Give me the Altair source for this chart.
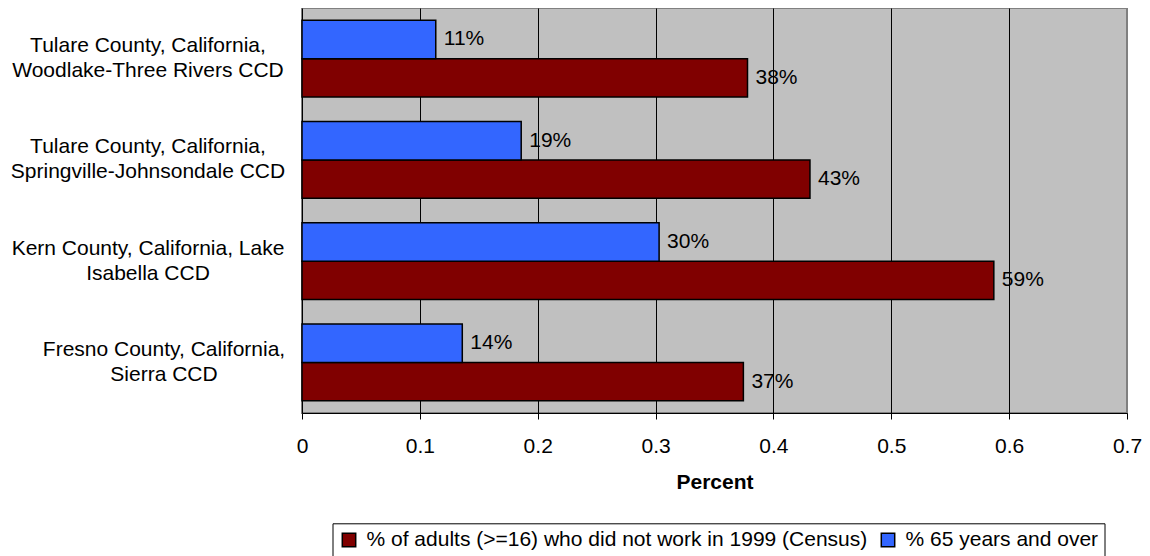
import altair as alt
import pandas as pd

# ---- data ----
line1 = [
    "Tulare County, California,",
    "Tulare County, California,",
    "Kern County, California, Lake",
    "Fresno County, California,",
]
line2 = [
    "Woodlake-Three Rivers CCD",
    "Springville-Johnsondale CCD",
    "Isabella CCD",
    "Sierra CCD",
]
series_red = "% of adults (>=16) who did not work in 1999 (Census)"
series_blue = "% 65 years and over"
not_working = [0.378, 0.431, 0.587, 0.3745]
age_65 = [0.1135, 0.186, 0.303, 0.136]
x_ticks = [0, 0.1, 0.2, 0.3, 0.4, 0.5, 0.6, 0.7]

categories = [a + "|" + b for a, b in zip(line1, line2)]

rows = []
for c, r, b in zip(categories, not_working, age_65):
    rows.append({"place": c, "series": series_red, "value": r})
    rows.append({"place": c, "series": series_blue, "value": b})
df = pd.DataFrame(rows)
cat_df = pd.DataFrame({"place": categories})

FONT = "Liberation Sans"
FS = 21

base = alt.Chart(df).encode(
    x=alt.X(
        "value:Q",
        scale=alt.Scale(domain=[0, 0.7], nice=False, zero=True),
        axis=alt.Axis(
            values=x_ticks,
            format="~g",
            title="Percent",
            titleFont=FONT,
            titleFontSize=FS,
            titleFontWeight="bold",
            titleColor="black",
            titleBaseline="alphabetic",
            titleY=75,
            labelFont=FONT,
            labelFontSize=FS,
            labelColor="black",
            labelBaseline="alphabetic",
            labelPadding=33,
            labelFlush=False,
            tickSize=6,
            tickColor="black",
            domainColor="black",
            domainWidth=1,
            grid=True,
            gridColor=alt.condition(
                "datum.value >= 0.69", alt.value("transparent"), alt.value("black")
            ),
            gridWidth=1,
        ),
    ),
    y=alt.Y(
        "place:N",
        sort=categories,
        scale=alt.Scale(paddingInner=0, paddingOuter=0),
        axis=alt.Axis(
            title=None,
            labels=False,
            tickBand="extent",
            tickSize=6,
            tickColor="black",
            domainColor="black",
            domainWidth=1,
            grid=False,
        ),
    ),
    yOffset=alt.YOffset(
        "series:N",
        sort=[series_blue, series_red],
        scale=alt.Scale(paddingInner=0, paddingOuter=0.318),
    ),
)

bars = base.mark_bar(stroke="black", strokeWidth=1.5).encode(
    color=alt.Color(
        "series:N",
        scale=alt.Scale(domain=[series_red, series_blue], range=["#800000", "#3366FF"]),
        legend=alt.Legend(
            title=None,
            orient="none",
            legendX=30.5,
            legendY=515.3,
            direction="horizontal",
            strokeColor="black",
            fillColor="white",
            padding=6,
            symbolType="square",
            symbolSize=180,
            symbolStrokeColor="black",
            symbolStrokeWidth=1.5,
            labelFont=FONT,
            labelFontSize=FS,
            labelColor="black",
            labelLimit=800,
            labelOffset=7,
            columnPadding=10,
        ),
    )
)

value_labels = base.mark_text(
    align="left", baseline="middle", dx=8, font=FONT, fontSize=FS, color="black"
).encode(text=alt.Text("value:Q", format=".0%"))

# Category labels: Excel centres the lines inside a right-aligned block, so the
# narrower Fresno block sits a little further right.
cat_labels = (
    alt.Chart(cat_df)
    .transform_calculate(lines="split(datum.place, '|')")
    .mark_text(
        align="center",
        baseline="middle",
        lineHeight=25,
        dy=-12.5,
        dx=alt.expr("indexof(datum.place, 'Fresno') === 0 ? 16 : 0"),
        font=FONT,
        fontSize=FS,
        color="black",
    )
    .encode(
        y=alt.Y("place:N", sort=categories, axis=None),
        x=alt.value(-154),
        text=alt.Text("lines:N"),
    )
)

chart = (
    alt.layer(bars, value_labels, cat_labels)
    .properties(
        width=825,
        height=405,
        autosize=alt.AutoSizeParams(type="none"),
        padding={"left": 294, "top": 0, "right": 15, "bottom": 143},
    )
    .configure_view(fill="#C0C0C0", stroke="#808080", strokeWidth=2)
)

chart.save("out.html", embed_options={"renderer": "svg", "actions": False})
